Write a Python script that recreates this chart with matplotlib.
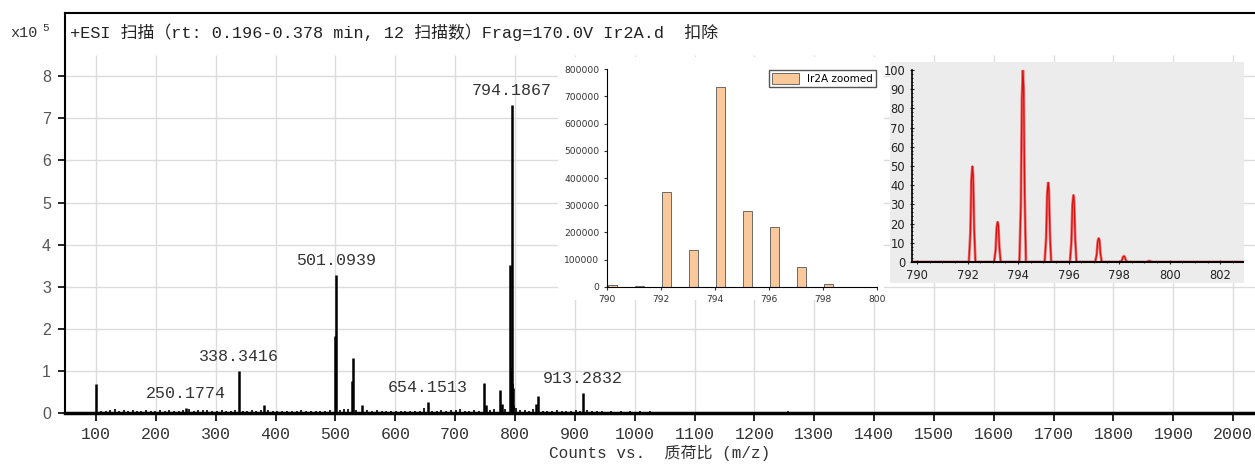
import matplotlib
matplotlib.use('Agg')
import matplotlib.pyplot as plt
import numpy as np
from matplotlib.patches import Rectangle
from matplotlib.ticker import MultipleLocator

MONO = ['Liberation Mono', 'Noto Sans CJK SC']

# main spectrum: labelled / larger sticks (counts x10^5)
peak_mz = [100.1, 250.2, 338.3, 381.0, 500.1, 501.1, 527.0, 529.1, 545.0, 654.2,
           748.0, 752.0, 774.5, 778.0, 792.2, 793.2, 794.2, 795.2, 796.2, 797.2,
           835.0, 838.0, 913.3]
peak_counts = [0.69, 0.12, 1.0, 0.18, 1.83, 3.28, 0.77, 1.31, 0.19, 0.27,
               0.72, 0.2, 0.55, 0.22, 3.52, 1.1, 7.32, 0.71, 0.6, 0.2,
               0.22, 0.4, 0.48]

# small background sticks
noise_mz = [108, 116, 123, 131, 138, 146, 153, 161, 169, 176,
            184, 192, 199, 207, 215, 222, 230, 238, 245, 256,
            263, 271, 279, 286, 294, 302, 310, 318, 326, 333,
            345, 352, 360, 368, 375, 387, 395, 403, 411, 419,
            427, 435, 443, 451, 459, 467, 475, 483, 491, 508,
            515, 521, 535, 553, 561, 569, 577, 585, 593, 601,
            609, 617, 625, 633, 641, 648, 661, 669, 677, 685,
            693, 701, 708, 716, 724, 732, 740, 758, 765, 784,
            801, 808, 816, 824, 830, 846, 854, 862, 870, 878,
            886, 894, 902, 909, 921, 929, 937, 945, 953, 961,
            969, 977, 985, 993, 1001, 1009, 1017, 1025, 1033, 1041,
            1200, 1210, 1222, 1256]
noise_counts = [0.05, 0.04, 0.06, 0.10, 0.05, 0.07, 0.04, 0.08, 0.05, 0.04,
                0.06, 0.04, 0.05, 0.07, 0.04, 0.08, 0.05, 0.04, 0.06, 0.09,
                0.05, 0.07, 0.06, 0.08, 0.05, 0.04, 0.07, 0.05, 0.04, 0.06,
                0.05, 0.04, 0.06, 0.05, 0.08, 0.07, 0.05, 0.04, 0.05, 0.04,
                0.05, 0.04, 0.06, 0.04, 0.05, 0.04, 0.05, 0.04, 0.06, 0.07,
                0.09, 0.10, 0.06, 0.07, 0.05, 0.06, 0.04, 0.05, 0.04, 0.05,
                0.04, 0.05, 0.04, 0.05, 0.04, 0.12, 0.05, 0.04, 0.06, 0.05,
                0.07, 0.06, 0.10, 0.05, 0.04, 0.06, 0.05, 0.08, 0.09, 0.10,
                0.12, 0.08, 0.06, 0.05, 0.10, 0.05, 0.04, 0.05, 0.07, 0.04,
                0.05, 0.04, 0.06, 0.05, 0.06, 0.04, 0.05, 0.04, 0.03, 0.04,
                0.03, 0.04, 0.03, 0.04, 0.03, 0.04, 0.03, 0.04, 0.03, 0.03,
                0.03, 0.02, 0.02, 0.04]

label_mz = [250.1774, 338.3416, 501.0939, 654.1513, 794.1867, 913.2832]

# inset 1: zoomed bars
zoom_mz = [790.2, 791.2, 792.2, 793.2, 794.2, 795.2, 796.2, 797.2, 798.2, 799.2]
zoom_counts = [7000, 2000, 350000, 135000, 735000, 278000, 220000, 72000, 12000, 1500]

# inset 2: isotope pattern (%)
iso_mz = [792.19, 793.19, 794.19, 795.19, 796.19, 797.19, 798.19, 799.2]
iso_pct = [50, 21, 100, 41.5, 35, 12.5, 3, 0.5]
shape_dx = [-0.14, -0.08, -0.04, 0.0, 0.03, 0.07, 0.12]
shape_frac = [0, 0.3, 0.85, 1.0, 0.9, 0.35, 0]

fig = plt.figure(figsize=(12.55, 4.65), dpi=100)
ax = fig.add_axes([0.0518, 0.1118, 0.948, 0.860])
ax.set_xlim(48.2, 2036)
ax.set_ylim(0, 9.5)

# grid
for xv in range(100, 2001, 100):
    ax.vlines(xv, 0, 8.5, color='#dcdcdc', lw=1, zorder=0)
for yv in range(1, 9):
    ax.axhline(yv, color='#dcdcdc', lw=1, zorder=0)

ax.vlines(noise_mz, 0, noise_counts, color='black', lw=1.2)
ax.vlines(peak_mz, 0, peak_counts, color='black', lw=1.8)

for m in label_mz:
    i = int(np.argmin(np.abs(np.array(peak_mz) - m)))
    ax.annotate('%.4f' % m, xy=(peak_mz[i], peak_counts[i]), xytext=(0, 5),
                textcoords='offset points', ha='center', va='bottom',
                family=MONO, fontsize=12, color='#333333')

ax.set_xticks(range(100, 2001, 100))
ax.set_yticks(range(0, 9))
for lab in ax.get_xticklabels():
    lab.set_family(MONO)
for lab in ax.get_yticklabels():
    lab.set_family('Liberation Sans')
ax.tick_params(axis='x', length=6, width=1.2, labelsize=12, labelcolor='#333333', pad=4)
ax.tick_params(axis='y', length=5, width=1.2, labelsize=11.5, labelcolor='#555555', pad=5)
ax.spines['right'].set_visible(False)
ax.spines['bottom'].set_linewidth(2.5)
ax.spines['left'].set_linewidth(1.5)
ax.spines['top'].set_linewidth(1.5)
ax.set_xlabel('Counts vs.  质荷比 (m/z)', family=MONO, fontsize=11.5, color='#333333', labelpad=2)

fig.text(0.0558, 0.930, '+ESI 扫描（rt: 0.196-0.378 min, 12 扫描数）Frag=170.0V Ir2A.d  扣除',
         family=MONO, fontsize=12.2, color='#222222', va='center')
fig.text(0.008, 0.930, 'x10', family=MONO, fontsize=11, color='#333333', va='center')
fig.text(0.034, 0.940, '5', family=MONO, fontsize=8, color='#333333', va='center')

# white panel behind inset 1
fig.patches.append(Rectangle((558 / 1255, 1 - 300 / 465), 326 / 1255, 243 / 465,
                             transform=fig.transFigure, facecolor='white',
                             edgecolor='none', zorder=2))
ax1 = fig.add_axes([0.4837, 0.3828, 0.2151, 0.4688], zorder=3)
ax1.bar(zoom_mz, zoom_counts, width=0.32, color='#f9c89b', edgecolor='#555555',
        linewidth=0.6, label='Ir2A zoomed')
ax1.set_xlim(790, 800)
ax1.set_ylim(0, 800000)
ax1.set_xticks(range(790, 801, 2))
ax1.set_yticks(range(0, 800001, 100000))
ax1.tick_params(labelsize=6.6, length=2, colors='#333333')
for s in ['top', 'right']:
    ax1.spines[s].set_visible(False)
ax1.legend(loc='upper right', fontsize=7.5, fancybox=False, edgecolor='#555555',
           borderaxespad=0.1, handlelength=2.6, handleheight=1.2, borderpad=0.3,
           framealpha=1)

# gray panel behind inset 2
fig.patches.append(Rectangle((890 / 1255, 1 - 283 / 465), 354 / 1255, 221 / 465,
                             transform=fig.transFigure, facecolor='#ececec',
                             edgecolor='none', zorder=2))
ax2 = fig.add_axes([0.7267, 0.4366, 0.2637, 0.4129], zorder=3)
ax2.set_facecolor('#ececec')
xs, ys = [789.8], [0]
for c, h in zip(iso_mz, iso_pct):
    xs += [c + d for d in shape_dx]
    ys += [h * f for f in shape_frac]
xs.append(802.9)
ys.append(0)
ax2.plot(xs, ys, color='#f07070', lw=2.0, solid_joinstyle='miter')
ax2.plot(xs, ys, color='#d81010', lw=0.9)
ax2.set_xlim(789.8, 802.9)
ax2.set_ylim(0, 100)
ax2.set_xticks(range(790, 803, 2))
ax2.set_yticks(range(0, 101, 10))
ax2.xaxis.set_minor_locator(MultipleLocator(0.5))
ax2.yaxis.set_minor_locator(MultipleLocator(2))
ax2.tick_params(which='major', labelsize=8.3, length=3, direction='inout', colors='#222222')
ax2.tick_params(which='minor', length=1.5, direction='inout', colors='#222222')
for s in ['top', 'right']:
    ax2.spines[s].set_visible(False)
ax2.spines['bottom'].set_linewidth(1.5)
ax2.spines['left'].set_linewidth(1.2)

fig.savefig('out.png', dpi=100)
